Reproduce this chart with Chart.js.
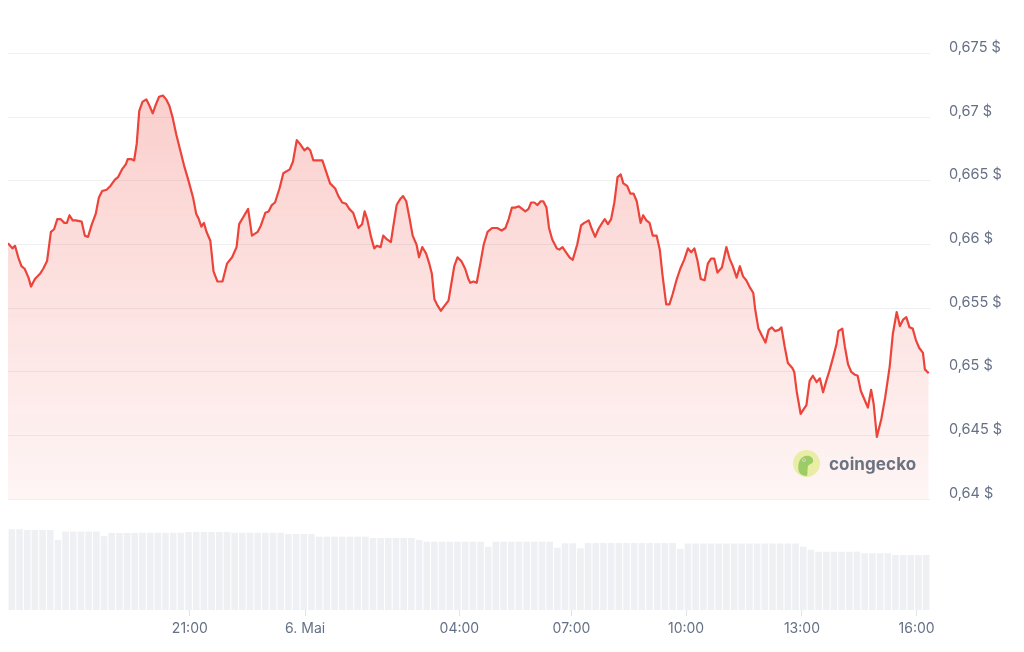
<!DOCTYPE html>
<html>
<head>
<meta charset="utf-8">
<script src="https://cdn.jsdelivr.net/npm/chart.js@4.4.1/dist/chart.umd.min.js"></script>
<style>
	body { margin: 0; background: #fff; width: 1024px; height: 652px; overflow: hidden; position: relative; font-family: Inter, sans-serif; }
	#chart--price { position: absolute; left: 0; top: 0; }
	#chart--volume { position: absolute; left: 0; top: 505px; }
	.watermark { position: absolute; left: 793px; top: 450px; display: flex; align-items: center; gap: 9px; z-index: 2; }
	.watermark span { font-family: Inter, sans-serif; font-weight: 700; font-size: 17px; color: #6b7280; letter-spacing: 0.1px; }
</style>
</head>
<body>
<canvas id="chart--volume" width="1024" height="147"></canvas>
<canvas id="chart--price" width="1024" height="527"></canvas>
<div class="watermark">
	<svg width="27" height="27" viewBox="0 0 27 27">
		<circle cx="13.5" cy="13.5" r="13.5" fill="#e9eda6"/>
		<path d="M6 22 C4 15 6 8 12 6 C17 5 21 8 20 12 C19 14 16 14 15 16 C14 19 15 23 14 26 C11 26 8 25 6 22 Z" fill="#9ccc65"/>
		<circle cx="11" cy="10" r="1.6" fill="#fff"/>
		<circle cx="11" cy="10" r="0.8" fill="#5b6b3a"/>
	</svg>
	<span>coingecko</span>
</div>
<script>
// minutes since 5 May 16:16 (24h window)
const priceTimes = [
	0, 7, 11, 16, 21, 26, 32, 36, 42, 50, 55, 61, 67, 72, 77, 82, 88, 92, 96, 101,
	106, 115, 120, 125, 131, 137, 142, 147, 154, 160, 167, 172, 178, 184, 187, 193, 197, 201, 205, 210,
	216, 221, 226, 231, 236, 242, 247, 252, 257, 263, 269, 275, 282, 289, 294, 298, 302, 306, 310, 316,
	321, 327, 335, 342, 350, 357, 361, 368, 375, 381, 390, 395, 402, 407, 412, 417, 424, 430, 440, 445,
	451, 456, 463, 468, 472, 477, 483, 491, 497, 503, 511, 516, 522, 528, 533, 539, 547, 553, 557, 561,
	567, 572, 576, 582, 586, 592, 598, 602, 607, 613, 617, 622, 627, 632, 638, 642, 647, 653, 658, 662,
	666, 671, 676, 682, 688, 692, 697, 702, 708, 714, 719, 722, 727, 732, 738, 743, 749, 756, 764, 771,
	777, 782, 787, 792, 798, 803, 808, 813, 817, 822, 827, 832, 836, 841, 845, 850, 857, 861, 866, 870,
	877, 882, 889, 895, 900, 907, 912, 917, 922, 928, 932, 937, 942, 947, 952, 957, 961, 967, 972, 977,
	982, 988, 992, 997, 1002, 1007, 1013, 1018, 1022, 1028, 1033, 1038, 1044, 1050, 1056, 1062, 1067, 1072, 1077, 1082,
	1088, 1093, 1098, 1103, 1108, 1115, 1122, 1127, 1132, 1138, 1143, 1148, 1153, 1158, 1164, 1167, 1172, 1178, 1183, 1188,
	1193, 1198, 1204, 1208, 1213, 1218, 1225, 1228, 1232, 1238, 1243, 1247, 1252, 1257, 1263, 1268, 1273, 1278, 1283, 1289,
	1294, 1297, 1303, 1307, 1312, 1317, 1322, 1327, 1332, 1338, 1343, 1348, 1352, 1357, 1364, 1370, 1377, 1382, 1388, 1393,
	1398, 1403, 1408, 1413, 1418, 1423, 1429, 1432, 1438
]
const prices = [
	0.6601, 0.6597, 0.6599, 0.6590, 0.6583, 0.6581, 0.6574, 0.6567, 0.6573, 0.6577, 0.6581, 0.6587, 0.6610, 0.6612, 0.6620, 0.6620, 0.6617, 0.6617, 0.6623, 0.6619,
	0.6619, 0.6618, 0.6607, 0.6606, 0.6616, 0.6624, 0.6637, 0.6642, 0.6643, 0.6646, 0.6651, 0.6653, 0.6659, 0.6663, 0.6667, 0.6667, 0.6666, 0.6679, 0.6705, 0.6712,
	0.6714, 0.6709, 0.6703, 0.6710, 0.6716, 0.6717, 0.6714, 0.6709, 0.6700, 0.6686, 0.6674, 0.6662, 0.6650, 0.6637, 0.6624, 0.6620, 0.6614, 0.6617, 0.6610, 0.6603,
	0.6579, 0.6571, 0.6571, 0.6585, 0.6590, 0.6598, 0.6616, 0.6622, 0.6628, 0.6607, 0.6610, 0.6615, 0.6625, 0.6626, 0.6631, 0.6633, 0.6644, 0.6656, 0.6659, 0.6665,
	0.6682, 0.6679, 0.6674, 0.6676, 0.6674, 0.6666, 0.6666, 0.6666, 0.6657, 0.6648, 0.6644, 0.6638, 0.6633, 0.6632, 0.6628, 0.6625, 0.6613, 0.6616, 0.6626, 0.6620,
	0.6606, 0.6597, 0.6599, 0.6598, 0.6607, 0.6604, 0.6602, 0.6615, 0.6631, 0.6636, 0.6638, 0.6634, 0.6621, 0.6607, 0.6600, 0.6590, 0.6598, 0.6593, 0.6585, 0.6577,
	0.6557, 0.6552, 0.6548, 0.6552, 0.6556, 0.6568, 0.6583, 0.6590, 0.6587, 0.6581, 0.6573, 0.6570, 0.6571, 0.6570, 0.6586, 0.6600, 0.6610, 0.6613, 0.6613, 0.6611,
	0.6613, 0.6620, 0.6629, 0.6629, 0.6630, 0.6628, 0.6626, 0.6628, 0.6633, 0.6633, 0.6631, 0.6634, 0.6634, 0.6629, 0.6613, 0.6604, 0.6597, 0.6596, 0.6598, 0.6595,
	0.6590, 0.6588, 0.6600, 0.6615, 0.6617, 0.6619, 0.6612, 0.6606, 0.6612, 0.6617, 0.6620, 0.6616, 0.6620, 0.6633, 0.6653, 0.6655, 0.6648, 0.6646, 0.6640, 0.6640,
	0.6634, 0.6617, 0.6623, 0.6619, 0.6617, 0.6607, 0.6607, 0.6596, 0.6577, 0.6553, 0.6553, 0.6561, 0.6572, 0.6581, 0.6588, 0.6597, 0.6594, 0.6597, 0.6587, 0.6573,
	0.6572, 0.6585, 0.6589, 0.6589, 0.6578, 0.6582, 0.6598, 0.6589, 0.6583, 0.6574, 0.6583, 0.6575, 0.6572, 0.6567, 0.6562, 0.6549, 0.6534, 0.6528, 0.6523, 0.6533,
	0.6535, 0.6532, 0.6533, 0.6535, 0.6520, 0.6507, 0.6503, 0.6500, 0.6484, 0.6467, 0.6471, 0.6474, 0.6493, 0.6497, 0.6492, 0.6495, 0.6484, 0.6493, 0.6501, 0.6512,
	0.6522, 0.6532, 0.6534, 0.6520, 0.6506, 0.6500, 0.6498, 0.6497, 0.6485, 0.6478, 0.6472, 0.6486, 0.6475, 0.6449, 0.6463, 0.6480, 0.6504, 0.6530, 0.6547, 0.6536,
	0.6541, 0.6543, 0.6535, 0.6534, 0.6525, 0.6519, 0.6515, 0.6502, 0.6499
]

// volume bars, 12 minute buckets (relative units)
const volumeTimes = [
	6, 18, 30, 42, 54, 66, 78, 90, 102, 114, 126, 138, 150, 162, 174, 186, 198, 210, 222, 234,
	246, 258, 270, 282, 294, 306, 318, 330, 342, 354, 366, 378, 390, 402, 414, 426, 438, 450, 462, 474,
	486, 498, 510, 522, 534, 546, 558, 570, 582, 594, 606, 618, 630, 642, 654, 666, 678, 690, 702, 714,
	726, 738, 750, 762, 774, 786, 798, 810, 822, 834, 846, 858, 870, 882, 894, 906, 918, 930, 942, 954,
	966, 978, 990, 1002, 1014, 1026, 1038, 1050, 1062, 1074, 1086, 1098, 1110, 1122, 1134, 1146, 1158, 1170, 1182, 1194,
	1206, 1218, 1230, 1242, 1254, 1266, 1278, 1290, 1302, 1314, 1326, 1338, 1350, 1362, 1374, 1386, 1398, 1410, 1422, 1434
]
const volumes = [
	89.7, 89.7, 88.9, 88.9, 88.9, 88.9, 77.8, 87.2, 87.2, 87.2, 87.2, 87.2, 82.0, 85.6, 85.6, 85.6, 85.6, 85.9, 85.9, 85.9,
	85.9, 85.9, 85.9, 86.7, 86.7, 86.7, 86.7, 86.7, 86.7, 85.9, 85.9, 85.9, 85.9, 85.9, 85.9, 85.9, 84.4, 84.4, 84.4, 84.4,
	81.5, 81.5, 81.5, 81.5, 81.5, 81.5, 81.5, 80.0, 80.0, 80.0, 80.0, 80.0, 80.0, 77.8, 75.9, 75.9, 75.9, 75.9, 75.9, 75.9,
	75.9, 75.9, 70.3, 75.9, 75.9, 75.9, 75.9, 75.9, 75.9, 75.9, 75.9, 69.2, 74.1, 74.1, 68.5, 74.4, 74.4, 74.4, 74.4, 74.4,
	74.4, 74.4, 74.4, 74.4, 74.4, 74.4, 74.4, 67.8, 73.9, 73.9, 73.9, 73.9, 73.9, 73.9, 73.9, 73.9, 73.9, 73.9, 73.9, 73.9,
	73.9, 73.9, 73.9, 70.3, 67.0, 64.8, 64.8, 64.8, 64.8, 64.8, 64.8, 63.0, 63.0, 63.0, 63.0, 61.1, 61.1, 61.1, 61.1, 61.1
]

const xTickValues = [284, 464, 705, 880, 1059, 1240, 1419]
const xTickLabels = ['21:00', '6. Mai', '04:00', '07:00', '10:00', '13:00', '16:00']
const yTicks = [0.64, 0.645, 0.65, 0.655, 0.66, 0.665, 0.67, 0.675]

const lineRed = 'rgb(236, 68, 58)'
const labelColor = '#657086'
const gridColor = '#eef0f3'

const ctxPrice = document.getElementById('chart--price').getContext('2d')
const chart__price = new Chart(ctxPrice, {
	type: 'line',
	data: {
		datasets: [{
			data: priceTimes.map(function(t, i) { return {x: t, y: prices[i]} }),
			borderColor: lineRed,
			borderWidth: 2.2,
			pointRadius: 0,
			tension: 0,
			borderJoinStyle: 'round',
			fill: 'start',
			backgroundColor: function(context) {
				const area = context.chart.chartArea
				if (!area) return 'rgba(236, 68, 58, 0.15)'
				const g = context.chart.ctx.createLinearGradient(0, area.top, 0, area.bottom)
				g.addColorStop(0, 'rgba(236, 68, 58, 0.29)')
				g.addColorStop(1, 'rgba(236, 68, 58, 0.05)')
				return g
			}
		}]
	},
	options: {
		responsive: false,
		animation: false,
		layout: {
			padding: { left: 8, top: 28, bottom: 11, right: 0 }
		},
		plugins: {
			legend: { display: false },
			tooltip: { enabled: false }
		},
		scales: {
			x: {
				type: 'linear',
				min: 0,
				max: 1440,
				display: false
			},
			y: {
				position: 'right',
				min: 0.64,
				max: 0.677,
				afterBuildTicks: function(scale) { scale.ticks = yTicks.map(function(v) { return {value: v} }) },
				afterFit: function(scale) { scale.width = 94 },
				grid: { color: gridColor, drawTicks: false },
				border: { display: false },
				ticks: {
					padding: 19,
					labelOffset: -6,
					color: labelColor,
					font: { family: 'Inter', size: 14.5 },
					callback: function(v) { return v.toString().replace('.', ',') + ' $' }
				}
			}
		}
	}
})

const ctxVolume = document.getElementById('chart--volume').getContext('2d')
const chart__volume = new Chart(ctxVolume, {
	type: 'bar',
	data: {
		datasets: [{
			data: volumeTimes.map(function(t, i) { return {x: t, y: volumes[i]} }),
			backgroundColor: '#eff0f4',
			barPercentage: 0.86,
			categoryPercentage: 1
		}]
	},
	options: {
		responsive: false,
		animation: false,
		layout: {
			padding: { left: 8, right: 94, top: 15, bottom: 0 }
		},
		plugins: {
			legend: { display: false },
			tooltip: { enabled: false }
		},
		scales: {
			x: {
				type: 'linear',
				min: 0,
				max: 1440,
				offset: false,
				afterBuildTicks: function(scale) { scale.ticks = xTickValues.map(function(v) { return {value: v} }) },
				afterFit: function(scale) { scale.height = 42 },
				grid: { drawOnChartArea: false, tickLength: 6, color: '#e2e4e9', offset: false },
				border: { display: false },
				ticks: {
					color: labelColor,
					font: { family: 'Inter', size: 14 },
					padding: 4,
					maxRotation: 0,
					autoSkip: false,
					callback: function(v, i) { return xTickLabels[i] }
				}
			},
			y: {
				display: false,
				min: 0,
				max: 100
			}
		}
	}
})
</script>
</body>
</html>
